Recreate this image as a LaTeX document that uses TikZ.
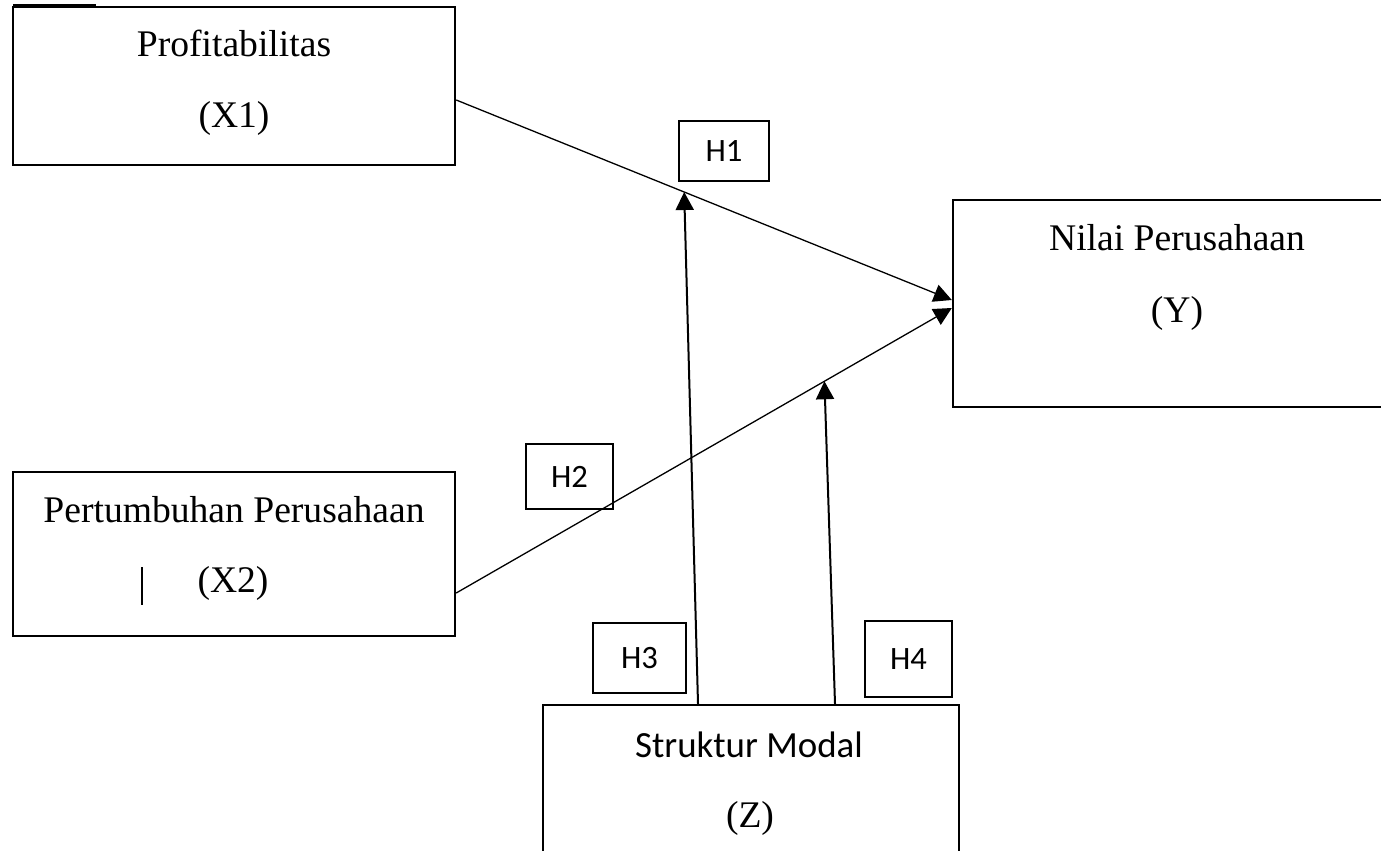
\documentclass[tikz,border=0pt]{standalone}
\usepackage{fontspec}
\setmainfont{Liberation Serif}
\newfontfamily\calibri{Carlito}
\usetikzlibrary{arrows.meta}

\tikzset{
  varbox/.style={draw, line width=1.2pt, inner sep=0pt},
  vartext/.style={font=\fontsize{18.8}{22}\selectfont},
  sanstext/.style={font=\calibri\fontsize{18.45}{22}\selectfont},
  hbox/.style={draw, line width=0.6pt, inner sep=0pt, font=\calibri\fontsize{16.3}{18}\selectfont},
  link/.style={line width=0.65pt, -{Triangle[length=9pt,width=9pt]}},
}

\begin{document}
\begin{tikzpicture}[x=0.5pt, y=-0.5pt]
  \useasboundingbox (0,0) rectangle (1381,851);
  \clip (0,0) rectangle (1381,851);

  % variable boxes
  \node[varbox, minimum width=221pt, minimum height=79pt] (x1) at (234,86) {};
  \node[varbox, minimum width=221pt, minimum height=82pt] (x2) at (234,554) {};
  \node[varbox, minimum width=238.5pt, minimum height=103.5pt] (y) at (1191.5,303.5) {};
  \node[varbox, minimum width=208pt, minimum height=97.5pt] (z) at (751,802.5) {};
  \draw[line width=0.8pt] (13,5) -- (96,5); % stray mark

  % box texts
  \node[vartext] (x1name) at (234,43) {Profitabilitas};
  \node[vartext] (x1code) at (234,118) {(X1)};
  \node[vartext] (x2name) at (234,510) {Pertumbuhan Perusahaan};
  \node[vartext] (x2code) at (233,583) {(X2)};
  \draw[line width=0.6pt] (142,567) -- (142,605); % bar
  \node[vartext] (yname) at (1177,238) {Nilai Perusahaan};
  \node[vartext] (ycode) at (1177,313) {(Y)};
  \node[sanstext] (zname) at (749,745) {Struktur Modal};
  \node[vartext] (zcode) at (750,818) {(Z)};

  % hypothesis boxes
  \foreach \n/\x/\y/\w/\h in {1/724/151/45/30, 2/569.5/476.5/43.5/32.5,
                              3/639.5/658/46.5/35, 4/908.5/659/43.5/38}
    \node[hbox, minimum width=\w pt, minimum height=\h pt] (h\n) at (\x,\y) {H\n};

  % paths
  \draw[link] ([yshift=-7pt]x1.east) -- ([yshift=1.75pt]y.west) coordinate[pos=0.46] (m1);
  \draw[link] ([yshift=-19.5pt]x2.east) -- ([yshift=-2.25pt]y.west) coordinate[pos=0.743] (m2);
  \draw[link, line width=1pt] ([xshift=-26.5pt]z.north) -- (m1);
  \draw[link, line width=1pt] ([xshift=42pt]z.north) -- (m2);
\end{tikzpicture}
\end{document}
